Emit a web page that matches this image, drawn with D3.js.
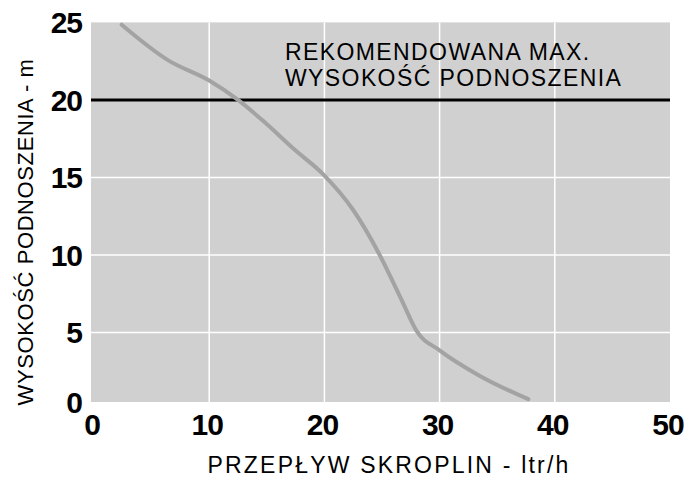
<html>
<body style="margin:0;background:#fff">
<div id="chart"></div>
<script src="https://cdnjs.cloudflare.com/ajax/libs/d3/7.8.5/d3.min.js"></script>
<script>
// pump curve
var flow = [2.4, 6.45, 10.0, 12.5, 14.6, 17.4, 19.9, 22.5, 24.8, 26.7, 28.0, 30.0, 33.5, 37.7];
var head = [24.85, 22.55, 21.25, 20.0, 18.7, 16.8, 15.2, 12.9, 10.0, 7.1, 5.1, 3.85, 2.2, 0.7];
var xTicks = [0, 10, 20, 30, 40, 50];
var yTicks = [0, 5, 10, 15, 20, 25];
var maxHead = 20;
var noteLines = ["REKOMENDOWANA MAX.", "WYSOKOŚĆ PODNOSZENIA"];

var W = 689, H = 480;
var left = 91, bottom = 402;
var svg = d3.select("#chart").append("svg").attr("width", W).attr("height", H)
  .style("font-family", "'Liberation Sans', Arial, sans-serif");

var x = d3.scaleLinear().domain([0, 50]).range([94, 670]);
var y = d3.scaleLinear().domain([0, 25]).range([410, 22.4]);

// gray plot area
svg.append("rect").attr("x", left).attr("y", y(25))
  .attr("width", x(50) - left).attr("height", bottom - y(25))
  .attr("fill", "#d0d0d0");

// white grid
svg.selectAll("line.vg").data(xTicks.slice(1, -1)).enter().append("line")
  .attr("x1", function (d) { return x(d); }).attr("x2", function (d) { return x(d); })
  .attr("y1", y(25)).attr("y2", bottom)
  .attr("stroke", "#fff").attr("stroke-width", 1.5);
svg.selectAll("line.hg").data(yTicks.slice(1, -1)).enter().append("line")
  .attr("x1", left).attr("x2", x(50))
  .attr("y1", function (d) { return y(d); }).attr("y2", function (d) { return y(d); })
  .attr("stroke", "#fff").attr("stroke-width", 1.5);

// recommended max line
svg.append("line").attr("x1", left).attr("x2", x(50))
  .attr("y1", y(maxHead)).attr("y2", y(maxHead))
  .attr("stroke", "#000").attr("stroke-width", 3);

// curve
var line = d3.line()
  .x(function (d, i) { return x(flow[i]); })
  .y(function (d, i) { return y(head[i]); })
  .curve(d3.curveMonotoneX);
svg.append("path").datum(flow).attr("d", line)
  .attr("fill", "none").attr("stroke", "#a3a3a3").attr("stroke-width", 4)
  .attr("stroke-linecap", "round");

// tick labels
svg.selectAll("text.xt").data(xTicks).enter().append("text")
  .attr("x", function (d) { return x(d) - 2; }).attr("y", 435)
  .attr("text-anchor", "middle")
  .style("font-size", "30px").style("font-weight", "bold").style("letter-spacing", "-1px")
  .text(function (d) { return d; });
svg.selectAll("text.yt").data(yTicks).enter().append("text")
  .attr("x", 82).attr("y", function (d) { return Math.min(y(d), bottom) + 11; })
  .attr("text-anchor", "end")
  .style("font-size", "30px").style("font-weight", "bold").style("letter-spacing", "-1px")
  .text(function (d) { return d; });

// note
svg.selectAll("text.note").data(noteLines).enter().append("text")
  .attr("x", 285).attr("y", function (d, i) { return 60 + i * 26; })
  .style("font-size", "23px").style("letter-spacing", "1.4px")
  .text(function (d) { return d; });

// axis titles
svg.append("text").attr("x", 389).attr("y", 473).attr("text-anchor", "middle")
  .style("font-size", "23px").style("letter-spacing", "2.2px")
  .text("PRZEPŁYW SKROPLIN - ltr/h");
svg.append("text").attr("transform", "translate(33,232) rotate(-90)")
  .attr("text-anchor", "middle")
  .style("font-size", "22px").style("letter-spacing", "0.6px")
  .text("WYSOKOŚĆ PODNOSZENIA - m");
</script>
</body>
</html>
